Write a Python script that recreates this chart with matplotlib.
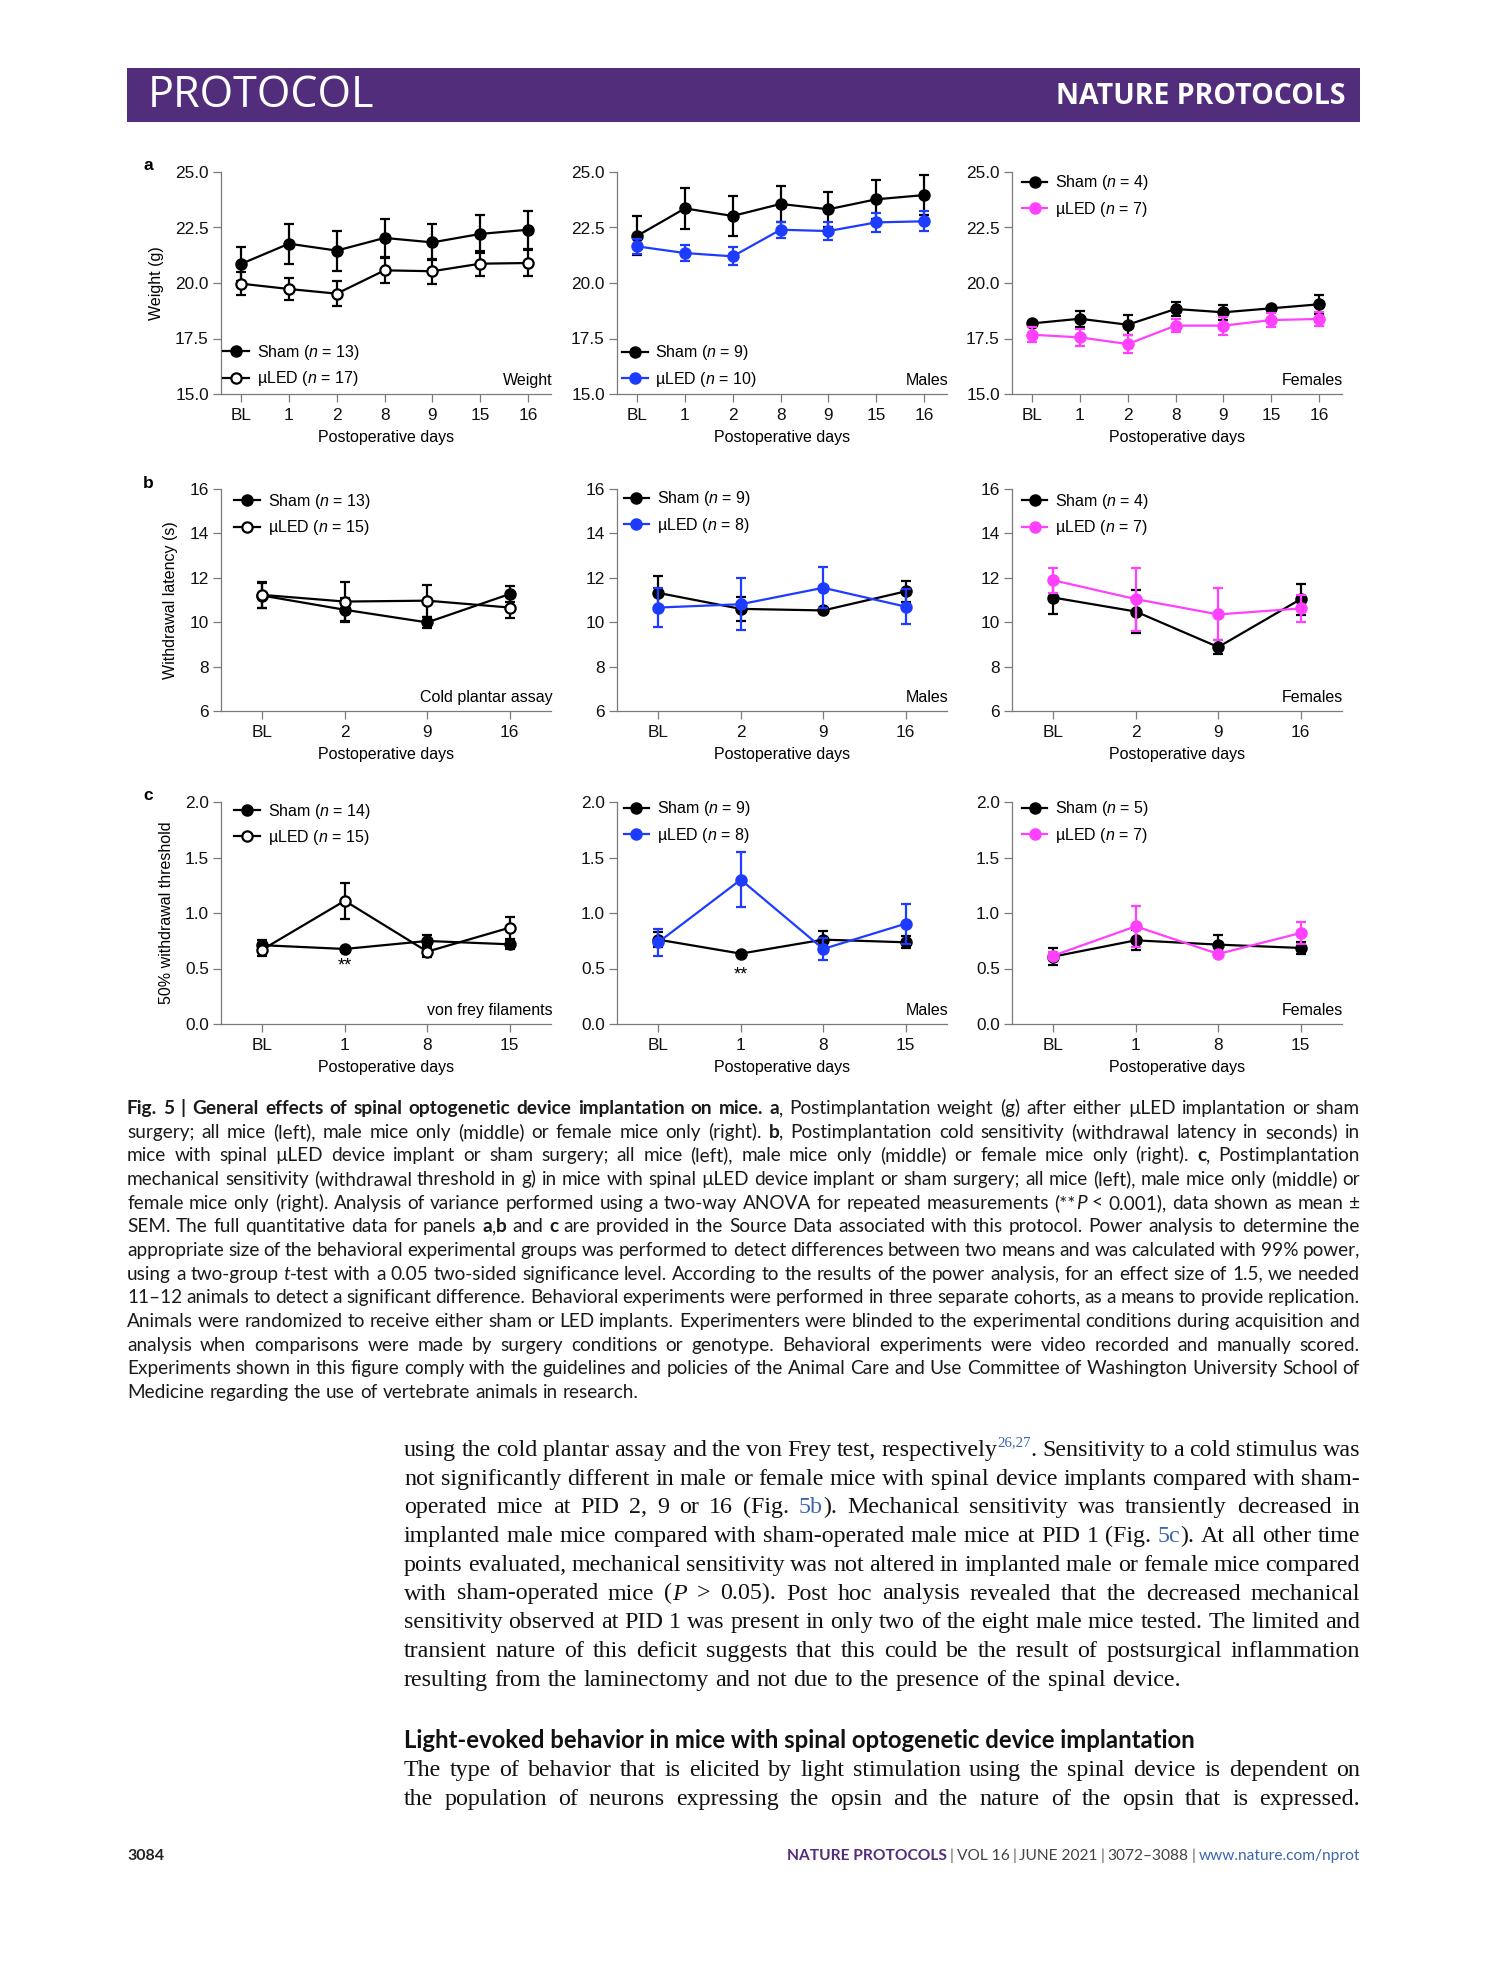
import numpy as np
import matplotlib
matplotlib.use('Agg')
import matplotlib.pyplot as plt
from matplotlib.transforms import IdentityTransform
from matplotlib.patches import Rectangle

plt.rcParams['font.family'] = ['Liberation Sans', 'DejaVu Sans']
plt.rcParams['mathtext.fontset'] = 'custom'
plt.rcParams['mathtext.rm'] = 'Liberation Sans'
plt.rcParams['mathtext.it'] = 'Liberation Sans:italic'

# ---- data (mean, SEM) ----
days_wt = ['BL', '1', '2', '8', '9', '15', '16']
days_cold = ['BL', '2', '9', '16']
days_vf = ['BL', '1', '8', '15']

wt_all_sham = [20.86, 21.77, 21.46, 22.03, 21.83, 22.21, 22.40]
wt_all_sham_sem = [0.76, 0.90, 0.90, 0.84, 0.81, 0.85, 0.86]
wt_all_led = [19.97, 19.73, 19.52, 20.57, 20.53, 20.87, 20.90]
wt_all_led_sem = [0.53, 0.51, 0.56, 0.56, 0.56, 0.57, 0.58]
wt_m_sham = [22.12, 23.36, 23.02, 23.56, 23.32, 23.77, 23.96]
wt_m_sham_sem = [0.88, 0.92, 0.92, 0.83, 0.78, 0.87, 0.89]
wt_m_led = [21.65, 21.35, 21.20, 22.40, 22.34, 22.73, 22.78]
wt_m_led_sem = [0.33, 0.37, 0.40, 0.37, 0.42, 0.42, 0.45]
wt_f_sham = [18.18, 18.39, 18.12, 18.83, 18.68, 18.86, 19.04]
wt_f_sham_sem = [0.08, 0.35, 0.45, 0.33, 0.34, 0.08, 0.42]
wt_f_led = [17.67, 17.55, 17.25, 18.08, 18.08, 18.33, 18.38]
wt_f_led_sem = [0.33, 0.40, 0.42, 0.30, 0.40, 0.30, 0.32]

cold_all_sham = [11.20, 10.56, 9.99, 11.27]
cold_all_sham_sem = [0.55, 0.53, 0.25, 0.38]
cold_all_led = [11.23, 10.93, 10.97, 10.66]
cold_all_led_sem = [0.60, 0.86, 0.72, 0.49]
cold_m_sham = [11.32, 10.60, 10.53, 11.39]
cold_m_sham_sem = [0.77, 0.54, 0.06, 0.46]
cold_m_led = [10.66, 10.81, 11.55, 10.70]
cold_m_led_sem = [0.86, 1.16, 0.93, 0.80]
cold_f_sham = [11.11, 10.48, 8.88, 11.04]
cold_f_sham_sem = [0.73, 0.97, 0.30, 0.70]
cold_f_led = [11.89, 11.04, 10.35, 10.62]
cold_f_led_sem = [0.56, 1.42, 1.17, 0.59]

vf_all_sham = [0.71, 0.676, 0.748, 0.718]
vf_all_sham_sem = [0.045, 0.01, 0.057, 0.04]
vf_all_led = [0.67, 1.11, 0.652, 0.868]
vf_all_led_sem = [0.06, 0.16, 0.05, 0.10]
vf_m_sham = [0.76, 0.634, 0.76, 0.736]
vf_m_sham_sem = [0.065, 0.01, 0.078, 0.055]
vf_m_led = [0.736, 1.30, 0.676, 0.904]
vf_m_led_sem = [0.12, 0.25, 0.096, 0.18]
vf_f_sham = [0.607, 0.754, 0.715, 0.685]
vf_f_sham_sem = [0.075, 0.09, 0.087, 0.05]
vf_f_led = [0.616, 0.88, 0.631, 0.82]
vf_f_led_sem = [0.03, 0.186, 0.01, 0.10]

n_sham = [[13, 9, 4], [13, 9, 4], [14, 9, 5]]
n_led = [[17, 10, 7], [15, 8, 7], [15, 8, 7]]
tags = [['Weight', 'Males', 'Females'],
        ['Cold plantar assay', 'Males', 'Females'],
        ['von frey filaments', 'Males', 'Females']]
ylabels = ['Weight (g)', 'Withdrawal latency (s)', '50% withdrawal threshold']

caption = [
    "§Fig. §5 §| §General §effects §of §spinal §optogenetic §device §implantation §on §mice. §a`, Postimplantation weight (g) after either µLED implantation or sham",
    "surgery; all mice (left), male mice only (middle) or female mice only (right). §b`, Postimplantation cold sensitivity (withdrawal latency in seconds) in",
    "mice with spinal µLED device implant or sham surgery; all mice (left), male mice only (middle) or female mice only (right). §c`, Postimplantation",
    "mechanical sensitivity (withdrawal threshold in g) in mice with spinal µLED device implant or sham surgery; all mice (left), male mice only (middle) or",
    "female mice only (right). Analysis of variance performed using a two-way ANOVA for repeated measurements (**`~P < 0.001), data shown as mean ±",
    "SEM. The full quantitative data for panels §a`,`§b and §c are provided in the Source Data associated with this protocol. Power analysis to determine the",
    "appropriate size of the behavioral experimental groups was performed to detect differences between two means and was calculated with 99% power,",
    "using a two-group ~t`-test with a 0.05 two-sided significance level. According to the results of the power analysis, for an effect size of 1.5, we needed",
    "11–12 animals to detect a significant difference. Behavioral experiments were performed in three separate cohorts, as a means to provide replication.",
    "Animals were randomized to receive either sham or LED implants. Experimenters were blinded to the experimental conditions during acquisition and",
    "analysis when comparisons were made by surgery conditions or genotype. Behavioral experiments were video recorded and manually scored.",
    "Experiments shown in this figure comply with the guidelines and policies of the Animal Care and Use Committee of Washington University School of",
    "Medicine regarding the use of vertebrate animals in research.",
]
body = [
    "using the cold plantar assay and the von Frey test, respectively`^26,27`. Sensitivity to a cold stimulus was",
    "not significantly different in male or female mice with spinal device implants compared with sham-",
    "operated mice at PID 2, 9 or 16 (Fig. #5b`). Mechanical sensitivity was transiently decreased in",
    "implanted male mice compared with sham-operated male mice at PID 1 (Fig. #5c`). At all other time",
    "points evaluated, mechanical sensitivity was not altered in implanted male or female mice compared",
    "with sham-operated mice (`~P > 0.05). Post hoc analysis revealed that the decreased mechanical",
    "sensitivity observed at PID 1 was present in only two of the eight male mice tested. The limited and",
    "transient nature of this deficit suggests that this could be the result of postsurgical inflammation",
    "resulting from the laminectomy and not due to the presence of the spinal device.",
]
heading = "Light-evoked behavior in mice with spinal optogenetic device implantation"
body2 = [
    "The type of behavior that is elicited by light stimulation using the spinal device is dependent on",
    "the population of neurons expressing the opsin and the nature of the opsin that is expressed.",
]

W, H = 1489, 1978
PURPLE = '#512d7b'
LINK = '#3d64b0'
BLUE = '#1e3cff'
PINK = '#ff40ff'
GREY = '#7a7a7a'
FS = 11.5

fig = plt.figure(figsize=(W / 100, H / 100), dpi=100)
renderer = fig.canvas.get_renderer()
px = IdentityTransform()


def put(x, y, s, **kw):
    # pixel coords, y measured from the top
    return fig.text(x, H - y, s, transform=px, **kw)


def styled(piece):
    kw = {}
    while piece and piece[0] in '§~#^':
        c, piece = piece[0], piece[1:]
        if c == '§':
            kw['fontweight'] = 'bold'
        elif c == '~':
            kw['fontstyle'] = 'italic'
        elif c == '#':
            kw['color'] = LINK
        else:
            kw['sup'] = True
            kw['color'] = LINK
    return piece, kw


def text_line(line, x0, x1, y, size, family, color='#1a1a1a', justify=True):
    words = []
    for tok in line.split(' '):
        parts = []
        for p in tok.split('`'):
            if not p:
                continue
            s, kw = styled(p)
            sup = kw.pop('sup', False)
            fs = size * 0.62 if sup else size
            yy = y - size * 0.55 if sup else y
            t = put(0, yy, s, fontsize=fs, family=family,
                    color=kw.pop('color', color), va='baseline', **kw)
            parts.append([t, t.get_window_extent(renderer).width])
        words.append(parts)
    total = sum(w for parts in words for _, w in parts)
    room = x1 - x0 - 3 * (len(words) - 1)
    if justify and total > room:
        k = room / total
        for parts in words:
            for pr in parts:
                pr[0].set_fontsize(pr[0].get_fontsize() * k)
                pr[1] = pr[0].get_window_extent(renderer).width
        total = sum(w for parts in words for _, w in parts)
    if justify and len(words) > 1:
        gap = (x1 - x0 - total) / (len(words) - 1)
    else:
        gap = size * 0.27 * 100 / 72
    x = x0
    for parts in words:
        for t, w in parts:
            t.set_x(x)
            x += w
        x += gap


# ---- header bar ----
fig.add_artist(Rectangle((127, H - 122), 1233, 54, transform=px,
                         facecolor=PURPLE, edgecolor='none'))
put(148, 96, 'PROTOCOL', fontsize=31, color='white', family='Open Sans', va='center')
put(1345, 97, 'NATURE PROTOCOLS', fontsize=20.5, color='white', family='Open Sans',
    fontweight='bold', va='center', ha='right')

# ---- chart panels ----
col_left = [221, 617, 1012]
row_top = [172, 489, 802]
ax_w, ax_h = 330, 222

rows = [
    (days_wt, (15, 25), [15, 17.5, 20, 22.5, 25], '%.1f', (-0.42, 6.48),
     [(wt_all_sham, wt_all_sham_sem, wt_all_led, wt_all_led_sem),
      (wt_m_sham, wt_m_sham_sem, wt_m_led, wt_m_led_sem),
      (wt_f_sham, wt_f_sham_sem, wt_f_led, wt_f_led_sem)],
     [(0.006, 0.128), (0.015, 0.126), (0.03, 0.892)]),
    (days_cold, (6, 16), [6, 8, 10, 12, 14, 16], '%d', (-0.5, 3.5),
     [(cold_all_sham, cold_all_sham_sem, cold_all_led, cold_all_led_sem),
      (cold_m_sham, cold_m_sham_sem, cold_m_led, cold_m_led_sem),
      (cold_f_sham, cold_f_sham_sem, cold_f_led, cold_f_led_sem)],
     [(0.04, 0.885), (0.02, 0.896), (0.03, 0.885)]),
    (days_vf, (0, 2), [0, 0.5, 1.0, 1.5, 2.0], '%.1f', (-0.5, 3.5),
     [(vf_all_sham, vf_all_sham_sem, vf_all_led, vf_all_led_sem),
      (vf_m_sham, vf_m_sham_sem, vf_m_led, vf_m_led_sem),
      (vf_f_sham, vf_f_sham_sem, vf_f_led, vf_f_led_sem)],
     [(0.04, 0.899), (0.02, 0.91), (0.03, 0.91)]),
]
led_cols = ['k', BLUE, PINK]

for r, (days, ylim, yticks, fmt, xlim, sets, legpos) in enumerate(rows):
    x = np.arange(len(days))
    for c in range(3):
        ax = fig.add_axes([col_left[c] / W, 1 - (row_top[r] + ax_h) / H, ax_w / W, ax_h / H])
        sham, sham_e, led, led_e = sets[c]
        lc = led_cols[c]
        series = [(sham, sham_e, 'k', 'k', f'Sham ($n$ = {n_sham[r][c]})'),
                  (led, led_e, lc, 'white' if lc == 'k' else lc, f'µLED ($n$ = {n_led[r][c]})')]
        for m, e, col, face, lab in series:
            ax.errorbar(x, m, yerr=e, fmt='none', ecolor=col, elinewidth=1.6,
                        capsize=3.3, capthick=1.6, clip_on=False)
            ax.plot(x, m, '-o', color=col, mfc=face, mec=col, mew=1.6, ms=7.4,
                    lw=1.6, label=lab, clip_on=False)
        ax.set_xlim(*xlim)
        ax.set_ylim(*ylim)
        ax.set_xticks(x)
        ax.set_xticklabels(days)
        ax.set_yticks(yticks)
        ax.set_yticklabels([fmt % v for v in yticks])
        for s in ['top', 'right']:
            ax.spines[s].set_visible(False)
        for s in ['left', 'bottom']:
            ax.spines[s].set_color(GREY)
            ax.spines[s].set_linewidth(0.9)
        ax.tick_params(direction='out', length=5.8, width=0.9, color=GREY,
                       labelsize=12.4, labelcolor='#111111', pad=3)
        ax.tick_params(axis='x', pad=4.5)
        ax.set_xlabel('Postoperative days', fontsize=FS, labelpad=5)
        if c == 0:
            ax.set_ylabel(ylabels[r], fontsize=FS, labelpad=8)
        ax.legend(loc='center left', bbox_to_anchor=legpos[c], frameon=False,
                  fontsize=FS, handlelength=1.6, handletextpad=0.5,
                  labelspacing=0.45, borderpad=0, borderaxespad=0)
        ax.text(1.004, 0.063, tags[r][c], transform=ax.transAxes, ha='right',
                va='center', fontsize=FS)
        if r == 2 and c < 2:
            ax.text(1, [0.52, 0.44][c], '**', ha='center', va='center', fontsize=13)

for lab, yy in zip('abc', [166, 483, 796]):
    put(148, yy, lab, fontsize=12.5, fontweight='bold', ha='center', va='center')

# ---- caption ----
for i, line in enumerate(caption):
    text_line(line, 127, 1360, 1114 + i * 23.67, 13.7, 'Lato',
              justify=i < len(caption) - 1)

# ---- body text ----
for i, line in enumerate(body):
    text_line(line, 404, 1360, 1456 + i * 28.7, 17.3, 'Liberation Serif',
              color='#111111', justify=i < len(body) - 1)
put(404, 1748, heading, fontsize=17.2, family='Lato', fontweight='bold',
    color='#111111', va='baseline')
for i, line in enumerate(body2):
    text_line(line, 404, 1360, 1776 + i * 28.7, 17.3, 'Liberation Serif',
              color='#111111', justify=True)

# ---- footer ----
put(127, 1860, '3084', fontsize=11.5, family='Lato', fontweight='bold',
    color='#222222', va='baseline')
foot = [('NATURE PROTOCOLS', 'bold', PURPLE), ('|', 'normal', '#666666'),
        ('VOL 16', 'normal', '#444444'), ('|', 'normal', '#666666'),
        ('JUNE 2021', 'normal', '#444444'), ('|', 'normal', '#666666'),
        ('3072–3088', 'normal', '#444444'), ('|', 'normal', '#666666'),
        ('www.nature.com/nprot', 'normal', LINK)]
items = []
for s, wgt, col in foot:
    t = put(0, 1860, s, fontsize=11.2, family='Lato', fontweight=wgt,
            color=col, va='baseline')
    items.append((t, t.get_window_extent(renderer).width))
gap = 3
xx = 1360 - sum(w for _, w in items) - gap * (len(items) - 1)
for t, w in items:
    t.set_x(xx)
    xx += w + gap

fig.savefig('out.png', dpi=100, facecolor='white')
